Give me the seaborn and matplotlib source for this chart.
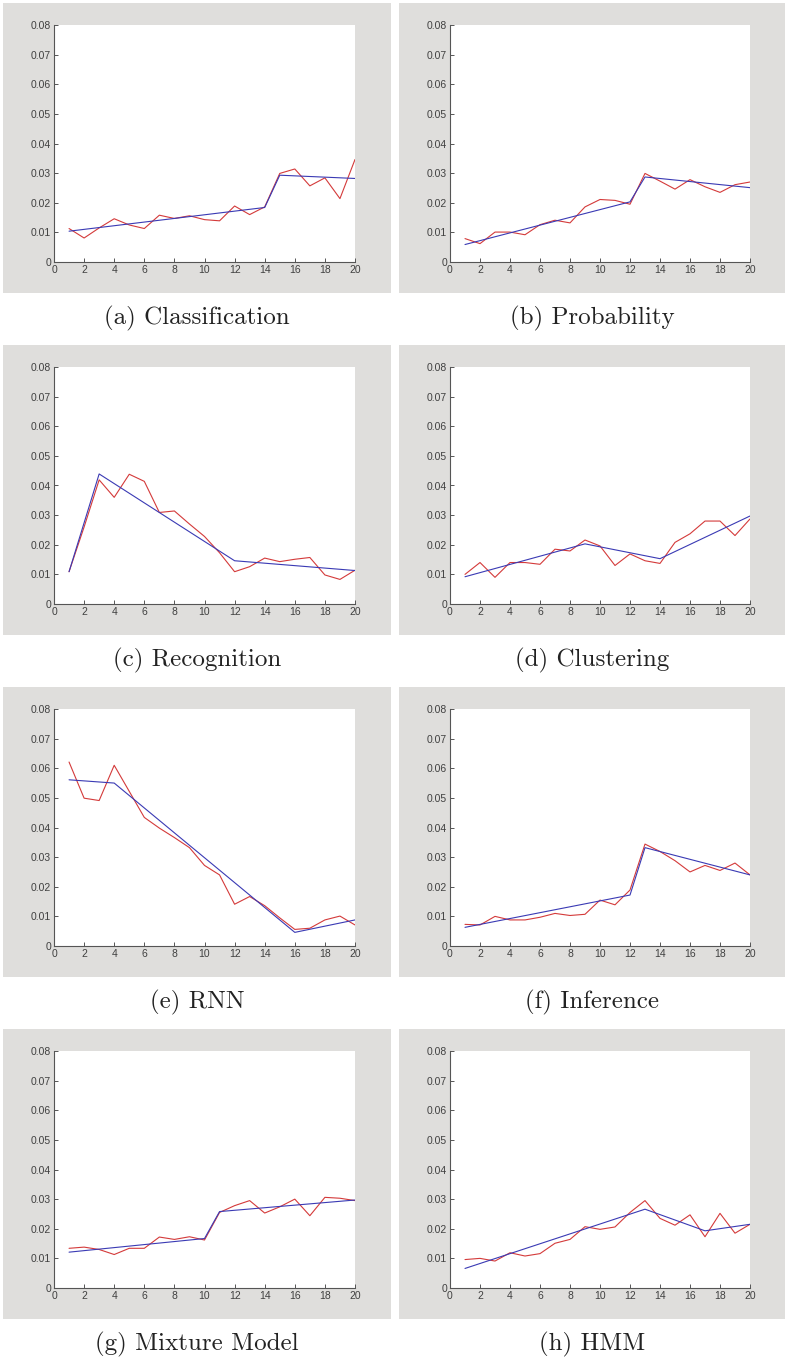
import matplotlib
matplotlib.use("Agg")
import matplotlib.pyplot as plt
import seaborn as sns
from matplotlib.patches import Rectangle

x = list(range(1, 21))

titulos = ['(a) Classification', '(b) Probability', '(c) Recognition', '(d) Clustering',
           '(e) RNN', '(f) Inference', '(g) Mixture Model', '(h) HMM']

red_a = [0.0113, 0.0081, 0.0115, 0.0146, 0.0125, 0.0113, 0.0158, 0.0147, 0.0156, 0.0143,
         0.0139, 0.0189, 0.0160, 0.0186, 0.0299, 0.0314, 0.0257, 0.0284, 0.0214, 0.0346]
red_b = [0.0079, 0.0062, 0.0101, 0.0101, 0.0092, 0.0126, 0.0141, 0.0132, 0.0186, 0.0211,
         0.0208, 0.0195, 0.0299, 0.0273, 0.0246, 0.0278, 0.0254, 0.0235, 0.0261, 0.0270]
red_c = [0.0109, 0.0260, 0.0419, 0.0360, 0.0438, 0.0414, 0.0309, 0.0314, 0.0270, 0.0228,
         0.0173, 0.0109, 0.0126, 0.0155, 0.0143, 0.0151, 0.0157, 0.0098, 0.0083, 0.0114]
red_d = [0.0100, 0.0140, 0.0090, 0.0140, 0.0140, 0.0134, 0.0185, 0.0179, 0.0216, 0.0196,
         0.0130, 0.0169, 0.0146, 0.0137, 0.0208, 0.0237, 0.0280, 0.0280, 0.0231, 0.0287]
red_e = [0.0621, 0.0499, 0.0491, 0.0610, 0.0522, 0.0434, 0.0398, 0.0366, 0.0332, 0.0272,
         0.0240, 0.0141, 0.0167, 0.0136, 0.0095, 0.0056, 0.0060, 0.0088, 0.0101, 0.0071]
red_f = [0.0073, 0.0071, 0.0100, 0.0088, 0.0088, 0.0097, 0.0110, 0.0103, 0.0107, 0.0155,
         0.0139, 0.0189, 0.0344, 0.0319, 0.0288, 0.0250, 0.0272, 0.0255, 0.0280, 0.0240]
red_g = [0.0134, 0.0138, 0.0130, 0.0113, 0.0134, 0.0134, 0.0172, 0.0164, 0.0173, 0.0162,
         0.0255, 0.0278, 0.0295, 0.0253, 0.0274, 0.0300, 0.0244, 0.0306, 0.0303, 0.0295]
red_h = [0.0096, 0.0100, 0.0091, 0.0119, 0.0108, 0.0116, 0.0151, 0.0164, 0.0207, 0.0198,
         0.0206, 0.0255, 0.0295, 0.0235, 0.0212, 0.0247, 0.0173, 0.0252, 0.0185, 0.0215]

# vertices da linha azul
blue_x_a = [1, 14, 15, 20]; blue_y_a = [0.0104, 0.0184, 0.0293, 0.0282]
blue_x_b = [1, 12, 13, 20]; blue_y_b = [0.0059, 0.0203, 0.0287, 0.0251]
blue_x_c = [1, 3, 12, 20];  blue_y_c = [0.0109, 0.0439, 0.0146, 0.0113]
blue_x_d = [1, 9, 14, 20];  blue_y_d = [0.0092, 0.0203, 0.0153, 0.0297]
blue_x_e = [1, 4, 16, 20];  blue_y_e = [0.0561, 0.0550, 0.0046, 0.0088]
blue_x_f = [1, 12, 13, 20]; blue_y_f = [0.0063, 0.0172, 0.0332, 0.0240]
blue_x_g = [1, 10, 11, 20]; blue_y_g = [0.0121, 0.0167, 0.0258, 0.0297]
blue_x_h = [1, 13, 17, 20]; blue_y_h = [0.0066, 0.0266, 0.0193, 0.0215]

reds = [red_a, red_b, red_c, red_d, red_e, red_f, red_g, red_h]
blues = [(blue_x_a, blue_y_a), (blue_x_b, blue_y_b), (blue_x_c, blue_y_c), (blue_x_d, blue_y_d),
         (blue_x_e, blue_y_e), (blue_x_f, blue_y_f), (blue_x_g, blue_y_g), (blue_x_h, blue_y_h)]

sns.set_style('ticks')
plt.rcParams['font.family'] = ['Liberation Sans', 'DejaVu Sans']

W, H = 786, 1358
fig = plt.figure(figsize=(W / 100, H / 100), dpi=100)
fig.patch.set_color('white')

cinza = '#dfdedc'
col_grey = [(3, 388), (399, 386)]
col_ax = [(54, 301), (450, 300)]

for i in range(8):
    r, c = divmod(i, 2)
    top = 3 + 342 * r
    gx, gw = col_grey[c]
    fig.add_artist(Rectangle((gx / W, 1 - (top + 290) / H), gw / W, 290 / H,
                             transform=fig.transFigure, facecolor=cinza,
                             edgecolor='none', zorder=0))
    axl, axw = col_ax[c]
    ax = fig.add_axes([axl / W, 1 - (top + 259) / H, axw / W, 237 / H])
    ax.set_facecolor('white')

    sns.lineplot(x=x, y=reds[i], ax=ax, color='#d43a3a', linewidth=0.8)
    sns.lineplot(x=blues[i][0], y=blues[i][1], ax=ax, color='#3a3ab4', linewidth=0.8)

    ax.set_xlim(0, 20)
    ax.set_ylim(0, 0.08)
    ax.set_xticks(range(0, 21, 2))
    ax.set_yticks([0, 0.01, 0.02, 0.03, 0.04, 0.05, 0.06, 0.07, 0.08])
    ax.set_yticklabels(['0', '0.01', '0.02', '0.03', '0.04', '0.05', '0.06', '0.07', '0.08'])
    ax.tick_params(direction='in', length=3, width=0.7, labelsize=7.5,
                   colors='#555555', labelcolor='#404040', pad=2)
    sns.despine(ax=ax)
    for s in ['left', 'bottom']:
        ax.spines[s].set_color('#555555')
        ax.spines[s].set_linewidth(0.8)

    fig.text((gx + gw / 2) / W, 1 - (top + 315) / H, titulos[i],
             family='cmr10', fontsize=18, ha='center', va='center', color='#222222')

fig.savefig('out.png', dpi=100)
